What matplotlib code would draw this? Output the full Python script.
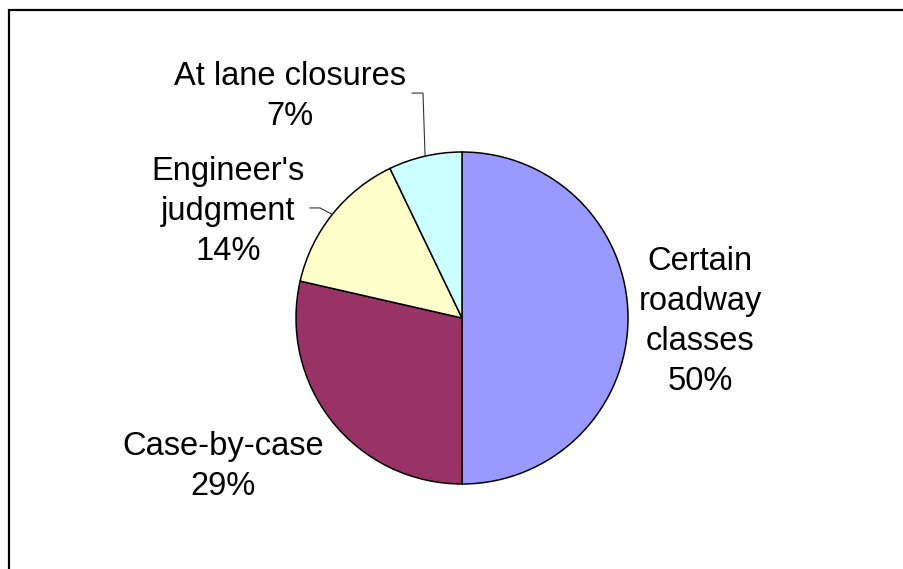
"""
plot.py

Pie chart of when the treatment is applied, drawn in the old Excel style.
"""
import numpy as np
import matplotlib
matplotlib.use('Agg')
import matplotlib.pyplot as plt
from matplotlib.patches import Rectangle

matplotlib.rcParams.update({'font.family': ['Liberation Sans', 'DejaVu Sans'],
                            'font.size': 23.5})

# data
labels = ['Certain\nroadway\nclasses', 'Case-by-case', "Engineer's\njudgment", 'At lane closures']
counts = [7, 4, 2, 1]
colors = ['#9999FF', '#993366', '#FFFFCC', '#CCFFFF']

W, H = 904, 569
cx, cy, r = 462, 318, 166   # pie centre and radius in pixels

fig = plt.figure(figsize=(W/100, H/100), dpi=100)
ax = fig.add_axes([0, 0, 1, 1])

wedges, _ = ax.pie(counts, colors=colors, startangle=90, counterclock=False,
                   wedgeprops=dict(edgecolor='black', linewidth=1.1))

ax.set_aspect('auto')
ax.set_xlim(-cx/r, (W-cx)/r)
ax.set_ylim((cy-H)/r, cy/r)
ax.axis('off')

total = sum(counts)
pct = [f'{round(100*c/total)}%' for c in counts]

# label centres (data units, radius = 1)
label_pos = [(1.434, -0.02), (-1.44, -0.893), (-1.41, 0.643), (-1.036, 1.335)]
for lab, p, (x, y) in zip(labels, pct, label_pos):
    ax.text(x, y, lab + '\n' + p, ha='center', va='center', linespacing=1.38)

# leader lines from the wedge middle out to the two small labels
def edge_point(w):
    a = np.deg2rad((w.theta1 + w.theta2) / 2)
    return np.cos(a), np.sin(a)

ex, ey = edge_point(wedges[3])
ax.plot([-0.301, -0.235, ex], [1.355, 1.355, ey], color='#333333', lw=0.8)
ex, ey = edge_point(wedges[2])
ax.plot([-0.916, -0.855, ex], [0.663, 0.663, ey], color='#333333', lw=0.8)

# chart frame (right and bottom edges fall outside the image)
fig.patches.append(Rectangle((9/W, -0.1), 1.2, 1 - 10/H + 0.1, transform=fig.transFigure,
                             fill=False, edgecolor='black', linewidth=1.6))

fig.savefig('out.png', dpi=100)
